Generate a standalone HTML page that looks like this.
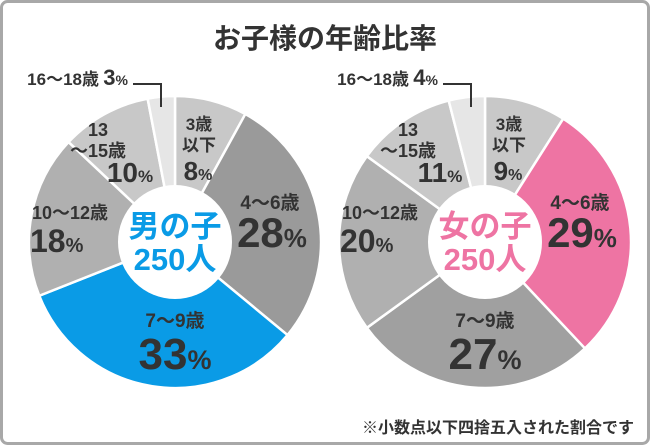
<!DOCTYPE html>
<html><head><meta charset="utf-8">
<style>
html,body{margin:0;padding:0;background:#fff;}
body{width:650px;height:445px;overflow:hidden;}
svg{display:block;}
text{font-family:"Liberation Sans","Noto Sans CJK JP",sans-serif;font-weight:bold;fill:#333;}
</style></head>
<body>
<svg id="chart" width="650" height="445" viewBox="0 0 650 445">
<rect x="1.5" y="1.5" width="647" height="442" rx="6" fill="#fff" stroke="#a8a8a8" stroke-width="3"/>
<text x="325" y="48" text-anchor="middle" font-size="28">お子様の年齢比率</text>
<g id="boys"></g>
<g id="girls"></g>
<text x="634" y="433" text-anchor="end" font-size="16">※小数点以下四捨五入された割合です</text>
</svg>
<script>
const categories = ["3歳以下","4〜6歳","7〜9歳","10〜12歳","13〜15歳","16〜18歳"];
const boysValues = [8,28,33,18,10,3];
const girlsValues = [9,29,27,20,11,4];
const boysColors = ["#c8c8c8","#9a9a9a","#0a9be6","#b0b0b0","#c8c8c8","#e6e6e6"];
const girlsColors = ["#c8c8c8","#ee74a3","#a0a0a0","#b0b0b0","#c8c8c8","#e6e6e6"];
const NS="http://www.w3.org/2000/svg";
function pt(cx,cy,r,frac){const a=frac*2*Math.PI-Math.PI/2;return [cx+r*Math.cos(a),cy+r*Math.sin(a)];}
function donut(gid,cx,cy,values,colors,centerLabel,centerColor,labelPos){
  const g=document.getElementById(gid);
  const total=values.reduce((a,b)=>a+b,0);
  let acc=0;const R=146;
  values.forEach((v,i)=>{
    const s=acc/total,e=(acc+v)/total;acc+=v;
    const p0=pt(cx,cy,R,s),p1=pt(cx,cy,R,e);
    const large=(e-s)>0.5?1:0;
    const p=document.createElementNS(NS,"path");
    p.setAttribute("d",`M${cx},${cy} L${p0[0]},${p0[1]} A${R},${R} 0 ${large} 1 ${p1[0]},${p1[1]} Z`);
    p.setAttribute("fill",colors[i]);p.setAttribute("stroke","#fff");p.setAttribute("stroke-width","2.5");
    
    
    g.appendChild(p);
  });
  const c=document.createElementNS(NS,"circle");
  c.setAttribute("cx",cx);c.setAttribute("cy",cy);c.setAttribute("r",57);c.setAttribute("fill","#fff");
  
  
  g.appendChild(c);
  [[centerLabel,cy-5],["250人",cy+28]].forEach(([t,y])=>{
    const tx=document.createElementNS(NS,"text");
    tx.setAttribute("x",cx);tx.setAttribute("y",y);tx.setAttribute("text-anchor","middle");
    tx.setAttribute("font-size","31");tx.style.fill=centerColor;tx.textContent=t;
    
    
    g.appendChild(tx);
  });
  values.forEach((v,i)=>{
    const L=labelPos[i];
    L.lines.forEach((ln,k)=>{
      const t=document.createElementNS(NS,"text");
      t.setAttribute("x",L.x);t.setAttribute("y",L.y+k*21);t.setAttribute("text-anchor",L.anchor||"middle");
      t.setAttribute("font-size",L.ls||"17");t.textContent=ln;
      
      
      g.appendChild(t);
    });
    const pv=document.createElementNS(NS,"text");
    pv.setAttribute("x",L.px);pv.setAttribute("y",L.py);pv.setAttribute("text-anchor",L.panchor||L.anchor||"middle");
    pv.setAttribute("font-size",L.fs);
    const a=document.createElementNS(NS,"tspan");a.textContent=v;
    const b=document.createElementNS(NS,"tspan");b.textContent="%";b.setAttribute("font-size",Math.round(L.fs*0.62));
    pv.appendChild(a);pv.appendChild(b);
    
    
    g.appendChild(pv);
  });
  const ln=document.createElementNS(NS,"polyline");
  ln.setAttribute("points",`${cx-42},84 ${cx-14},84 ${cx-14},107`);
  ln.setAttribute("fill","none");ln.setAttribute("stroke","#333");ln.setAttribute("stroke-width","2");
  
  
  g.appendChild(ln);
}
function pos(cx){return [
 {x:cx+24,y:130,lines:["3歳","以下"],px:cx+23,py:180,fs:26},
 {x:cx+95,y:209,lines:["4〜6歳"],px:cx+97,py:247,fs:42,ls:19},
 {x:cx,y:327,lines:["7〜9歳"],px:cx,py:369,fs:44,ls:19},
 {x:cx-143,y:219,lines:["10〜12歳"],px:cx-145,py:252,fs:32,anchor:"start",ls:18},
 {x:cx-77,y:136,lines:["13","〜15歳"],px:cx-45,py:182,fs:28,ls:18},
 {x:cx-76,y:85,lines:["16〜18歳"],px:cx-47,py:85,fs:22,anchor:"end",panchor:"end",ls:17}
];}
donut("boys",175,242,boysValues,boysColors,"男の子","#0a9be6",pos(175));
donut("girls",485,242,girlsValues,girlsColors,"女の子","#ee74a3",pos(485));
</script>
</body></html>
